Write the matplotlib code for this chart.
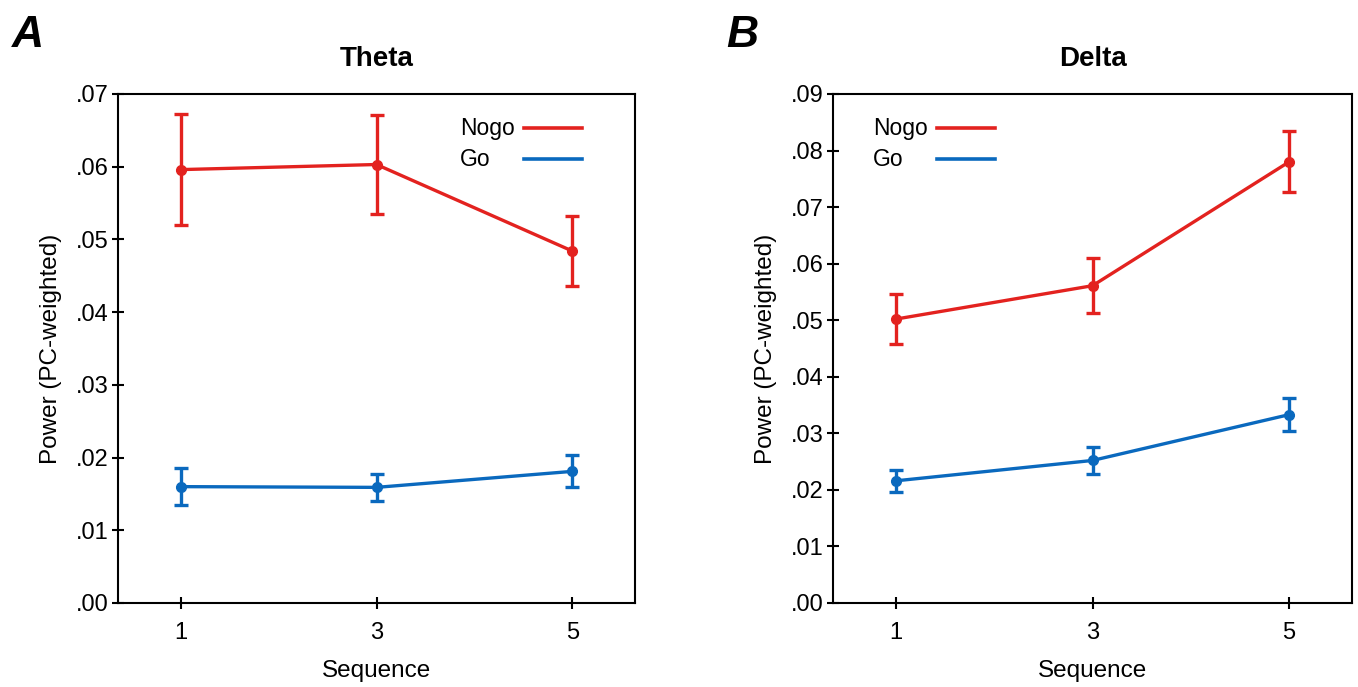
import matplotlib.pyplot as plt
from matplotlib.lines import Line2D

plt.rcParams['font.family'] = ['Liberation Sans', 'DejaVu Sans']

# -----------------------------
# Data
# -----------------------------
sequence = [1, 3, 5]

theta_nogo = [0.0596, 0.0603, 0.0484]
theta_nogo_err = [0.0076, 0.0068, 0.0048]
theta_go = [0.0160, 0.0159, 0.0181]
theta_go_err = [0.0025, 0.0019, 0.0022]

delta_nogo = [0.0502, 0.0561, 0.0780]
delta_nogo_err = [0.0044, 0.0049, 0.0054]
delta_go = [0.0216, 0.0252, 0.0333]
delta_go_err = [0.0020, 0.0024, 0.0029]

theta_ticks = [0.00, 0.01, 0.02, 0.03, 0.04, 0.05, 0.06, 0.07]
theta_labels = [".00", ".01", ".02", ".03", ".04", ".05", ".06", ".07"]
delta_ticks = [0.00, 0.01, 0.02, 0.03, 0.04, 0.05, 0.06, 0.07, 0.08, 0.09]
delta_labels = [".00", ".01", ".02", ".03", ".04", ".05", ".06", ".07", ".08", ".09"]

conditions = ["Nogo", "Go"]

red = "#E3221F"
blue = "#0A69BE"

fig = plt.figure(figsize=(13.58, 6.87), dpi=100)
ax_a = fig.add_axes([0.0869, 0.1223, 0.3807, 0.7409])
ax_b = fig.add_axes([0.6134, 0.1223, 0.3822, 0.7409])


def draw_panel(ax, nogo, nogo_err, go, go_err, ticks, labels, title, letter, leg_x):
    for y, e, c, lab in [(nogo, nogo_err, red, "Nogo"), (go, go_err, blue, "Go")]:
        ax.errorbar(sequence, y, yerr=e, color=c, linewidth=2.4,
                    marker='o', markersize=7, capsize=5, capthick=2.4,
                    elinewidth=2.4, label=lab)
    ax.set_xlim(0.36, 5.64)
    ax.set_ylim(ticks[0], ticks[-1])
    ax.set_xticks(sequence)
    ax.set_yticks(ticks)
    ax.set_yticklabels(labels)
    ax.tick_params(direction='inout', length=9, width=1.5, labelsize=17,
                   top=False, right=False)
    ax.tick_params(axis='x', pad=9)
    ax.tick_params(axis='y', pad=2)
    for s in ax.spines.values():
        s.set_linewidth(1.5)
    ax.set_xlabel("Sequence", fontsize=17.5, labelpad=12)
    ax.set_ylabel("Power (PC-weighted)", fontsize=17.5, labelpad=10)
    ax.set_title(title, fontsize=20, fontweight='bold', pad=20)
    ax.text(-0.205, 1.075, letter, transform=ax.transAxes, fontsize=32,
            fontweight='bold', fontstyle='italic', ha='left', va='bottom')

    # legend drawn by hand: text left-aligned, line after it
    for i, (lab, c) in enumerate(zip(conditions, [red, blue])):
        yy = 0.933 - i * 0.061
        ax.text(leg_x, yy, lab, transform=ax.transAxes, fontsize=16.5,
                ha='left', va='center')
        ax.add_line(Line2D([leg_x + 0.124, leg_x + 0.236], [yy, yy],
                           transform=ax.transAxes, color=c, linewidth=2.6))


draw_panel(ax_a, theta_nogo, theta_nogo_err, theta_go, theta_go_err,
           theta_ticks, theta_labels, "Theta", "A", 0.661)
draw_panel(ax_b, delta_nogo, delta_nogo_err, delta_go, delta_go_err,
           delta_ticks, delta_labels, "Delta", "B", 0.077)

plt.savefig("out.png", dpi=100)
